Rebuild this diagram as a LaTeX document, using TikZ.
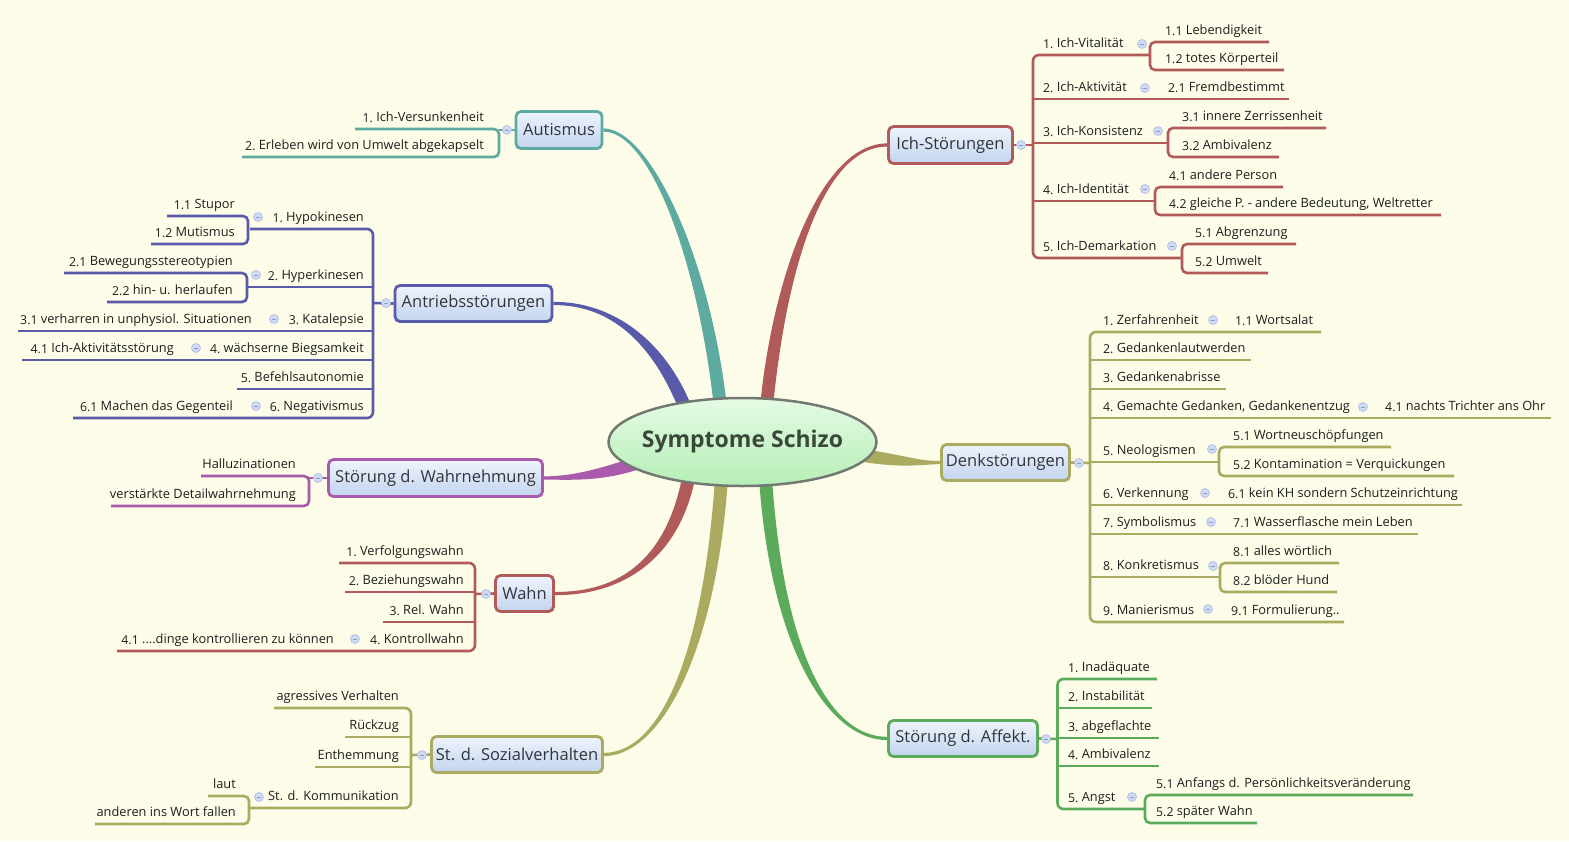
\documentclass[tikz,border=0pt]{standalone}
\usepackage{fontspec}
\setmainfont{Open Sans}
\usetikzlibrary{shapes.geometric,calc}
\definecolor{bgc}{RGB}{252,252,232}
\definecolor{cred}{RGB}{176,90,90}
\definecolor{cteal}{RGB}{92,170,160}
\definecolor{cblue}{RGB}{90,90,170}
\definecolor{cpurp}{RGB}{170,90,170}
\definecolor{colive}{RGB}{170,170,96}
\definecolor{cgreen}{RGB}{92,170,92}
\definecolor{btnf}{RGB}{208,218,244}
\definecolor{btnd}{RGB}{170,186,224}
\definecolor{btnm}{RGB}{140,155,200}
\definecolor{boxtop}{RGB}{238,244,253}
\definecolor{boxbot}{RGB}{194,212,238}
\definecolor{elltop}{RGB}{228,251,228}
\definecolor{ellbot}{RGB}{182,238,182}
\definecolor{elldraw}{RGB}{115,120,115}
\definecolor{leaftxt}{RGB}{30,30,30}
\definecolor{topictxt}{RGB}{50,52,58}
\definecolor{centtxt}{RGB}{58,72,58}
\newcommand\leaffont{\fontsize{12.8}{15}\selectfont}
\newcommand\topicfont{\fontsize{16.5}{20}\selectfont}
\newcommand\numlab[1]{{\fontsize{12.3}{14}\selectfont\raisebox{-0.8pt}{#1}}\ }
\newcommand\taper[7]{%
 \path #2 coordinate (tS) #3 coordinate (tA) #4 coordinate (tB) #5 coordinate (tE);
 \path ($(tS)!#6!90:(tA)$) coordinate (tS1) ($(tS)!#6!-90:(tA)$) coordinate (tS2)
       ($(tE)!#7!-90:(tB)$) coordinate (tE1) ($(tE)!#7!90:(tB)$) coordinate (tE2);
 \fill[#1] (tS1) .. controls ($(tA)+(tS1)-(tS)$) and ($(tB)+(tE1)-(tE)$) .. (tE1) -- (tE2) .. controls ($(tB)+(tE2)-(tE)$) and ($(tA)+(tS2)-(tS)$) .. (tS2) -- cycle;
}
\newcommand\R[4]{\node[lr] (#1) at (#2,#3-7.5) {#4};}
\newcommand\Lf[4]{\node[ll] (#1) at (#2,#3-7.5) {#4};}
\newcommand\B[3]{\node[btn] (#1) at (#2,#3) {};}
\pgfdeclarelayer{paper}
\pgfdeclarelayer{back}
\pgfsetlayers{paper,back,main}
\tikzset{
 leaf/.style={font=\leaffont, inner sep=0pt, text=leaftxt},
 lr/.style={leaf, anchor=base west},
 ll/.style={leaf, anchor=base east},
 ln/.style={line width=2.6pt, draw=#1},
 topic/.style={rounded corners=5pt, line width=2.8pt, top color=boxtop, bottom color=boxbot, font=\topicfont, text=topictxt, inner sep=0pt},
 btn/.style={circle, inner sep=0pt, minimum size=9pt, fill=btnf, draw=btnd, line width=0.6pt,
   path picture={\draw[btnm, line width=0.9pt] ([xshift=-2.3pt]path picture bounding box.center) -- ([xshift=2.3pt]path picture bounding box.center);}}
}
\begin{document}
\begin{tikzpicture}[x=1pt,y=-1pt]
\begin{pgfonlayer}{paper}
\fill[bgc] (0,0) rectangle (1569,841);
\end{pgfonlayer}
\useasboundingbox (0,0) rectangle (1569,841);

% ---------- main topics ----------
\node[ellipse, minimum width=268pt, minimum height=88pt, inner sep=0pt, draw=elldraw, line width=2.5pt, top color=elltop, bottom color=ellbot] (c) at (742.5,442) {};
\node[font=\fontsize{23}{28}\selectfont\bfseries, text=centtxt, inner sep=0pt] (ctxt) at (c.center) {Symptome Schizo};
\node[topic, draw=cred, minimum width=124pt, minimum height=37pt] (ich) at (950.5,145) {Ich-Störungen};
\node[topic, draw=cteal, minimum width=86pt, minimum height=37pt] (aut) at (559,130) {Autismus};
\node[topic, draw=cblue, minimum width=157pt, minimum height=36pt] (ant) at (473.5,303.5) {Antriebsstörungen};
\node[topic, draw=cpurp, minimum width=214pt, minimum height=37pt] (wah) at (435.5,478) {Störung d. Wahrnehmung};
\node[topic, draw=cred, minimum width=58pt, minimum height=36pt] (wahn) at (524.5,593.5) {Wahn};
\node[topic, draw=colive, minimum width=171pt, minimum height=36pt] (soz) at (517,754.5) {St. d. Sozialverhalten};
\node[topic, draw=colive, minimum width=128pt, minimum height=36pt] (denk) at (1005.5,462.5) {Denkstörungen};
\node[topic, draw=cgreen, minimum width=149pt, minimum height=36pt] (aff) at (963,738.5) {Störung d. Affekt.};

\begin{pgfonlayer}{back}
% ---------- tapered main connectors ----------
\taper{cred}{(766,412)}{(778,280)}{(820,145)}{(ich.west)}{6.5pt}{1.6pt}
\taper{cteal}{(721,412)}{(705,260)}{(650,130)}{(aut.east)}{6.5pt}{1.6pt}
\taper{cblue}{(688,415)}{(660,340)}{(610,303)}{(ant.east)}{6.5pt}{1.6pt}
\taper{cpurp}{(640,462)}{(600,476)}{(570,478)}{(wah.east)}{6.5pt}{1.6pt}
\taper{cred}{(690,470)}{(675,560)}{(620,594)}{(wahn.east)}{6.5pt}{1.6pt}
\taper{colive}{(722,470)}{(712,640)}{(665,754)}{(soz.east)}{6.5pt}{1.6pt}
\taper{cgreen}{(765,470)}{(775,640)}{(825,738)}{(aff.west)}{6.5pt}{1.6pt}
\taper{colive}{(860,455)}{(905,462)}{(920,463)}{(denk.west)}{6.5pt}{1.6pt}

% ---------- Ich-Stoerungen ----------
\draw[ln=cred] (ich.east) -- (1033,145);
\draw[ln=cred, rounded corners=6pt] (1150,55) -- (1033,55) -- (1033,258) -- (1182,258);
\draw[ln=cred] (1033,99) -- (1289,99);
\draw[ln=cred] (1033,143) -- (1168,143);
\draw[ln=cred] (1033,201) -- (1155,201);
\draw[ln=cred, rounded corners=5pt] (1269,42) -- (1150,42) -- (1150,70) -- (1284,70);
\draw[ln=cred, rounded corners=5pt] (1326,128) -- (1168,128) -- (1168,157) -- (1279,157);
\draw[ln=cred, rounded corners=5pt] (1283,187) -- (1155,187) -- (1155,215) -- (1441,215);
\draw[ln=cred, rounded corners=5pt] (1296,244) -- (1182,244) -- (1182,273) -- (1268,273);

% ---------- Denkstoerungen ----------
\draw[ln=colive] (denk.east) -- (1090,463);
\draw[ln=colive, rounded corners=6pt] (1321,332) -- (1090,332) -- (1090,622) -- (1344,622);
\draw[ln=colive] (1090,360) -- (1251,360);
\draw[ln=colive] (1090,389) -- (1226,389);
\draw[ln=colive] (1090,418) -- (1551,418);
\draw[ln=colive] (1090,462) -- (1219,462);
\draw[ln=colive] (1090,505) -- (1462,505);
\draw[ln=colive] (1090,534) -- (1418,534);
\draw[ln=colive] (1090,577) -- (1220,577);
\draw[ln=colive, rounded corners=5pt] (1391,447) -- (1219,447) -- (1219,476) -- (1454,476);
\draw[ln=colive, rounded corners=5pt] (1339,563) -- (1220,563) -- (1220,592) -- (1337,592);

% ---------- Affekt ----------
\draw[ln=cgreen] (aff.east) -- (1057.5,739);
\draw[ln=cgreen, rounded corners=6pt] (1157,679) -- (1057.5,679) -- (1057.5,809) -- (1145,809);
\draw[ln=cgreen] (1057.5,708) -- (1152,708);
\draw[ln=cgreen] (1057.5,738) -- (1159,738);
\draw[ln=cgreen] (1057.5,766) -- (1159,766);
\draw[ln=cgreen, rounded corners=5pt] (1413,795) -- (1145,795) -- (1145,823) -- (1257,823);

% ---------- Autismus ----------
\draw[ln=cteal] (aut.west) -- (499,130);
\draw[ln=cteal, rounded corners=5pt] (355,129) -- (499,129) -- (499,157) -- (242,157);

% ---------- Antriebsstoerungen ----------
\draw[ln=cblue] (ant.west) -- (373,303);
\draw[ln=cblue, rounded corners=6pt] (250,229) -- (373,229) -- (373,418) -- (73,418);
\draw[ln=cblue] (373,287) -- (247,287);
\draw[ln=cblue] (373,331) -- (18,331);
\draw[ln=cblue] (373,360) -- (22,360);
\draw[ln=cblue] (373,389) -- (237,389);
\draw[ln=cblue, rounded corners=5pt] (167,216) -- (248,216) -- (248,244) -- (151,244);
\draw[ln=cblue, rounded corners=5pt] (64,273) -- (247,273) -- (247,302) -- (107,302);

% ---------- Wahrnehmung ----------
\draw[ln=cpurp] (wah.west) -- (309,478);
\draw[ln=cpurp, rounded corners=5pt] (201,476) -- (309,476) -- (309,506) -- (111,506);

% ---------- Wahn ----------
\draw[ln=cred] (wahn.west) -- (475,594);
\draw[ln=cred, rounded corners=6pt] (339,563) -- (475,563) -- (475,651) -- (117,651);
\draw[ln=cred] (475,592) -- (345,592);
\draw[ln=cred] (475,622) -- (383,622);

% ---------- Sozialverhalten ----------
\draw[ln=colive] (soz.west) -- (411,755);
\draw[ln=colive, rounded corners=6pt] (274,708) -- (411,708) -- (411,808) -- (249,808);
\draw[ln=colive] (411,737) -- (345,737);
\draw[ln=colive] (411,767) -- (315,767);
\draw[ln=colive, rounded corners=5pt] (208,796) -- (249,796) -- (249,824) -- (95,824);
\end{pgfonlayer}

% ---------- texts right ----------
\R{a1}{1043}{55}{\numlab{1.}Ich-Vitalität}
\R{a11}{1165}{42}{\numlab{1.1}Lebendigkeit}
\R{a12}{1165}{70}{\numlab{1.2}totes Körperteil}
\R{a2}{1043}{99}{\numlab{2.}Ich-Aktivität}
\R{a21}{1168}{99}{\numlab{2.1}Fremdbestimmt}
\R{a3}{1043}{143}{\numlab{3.}Ich-Konsistenz}
\R{a31}{1182}{128}{\numlab{3.1}innere Zerrissenheit}
\R{a32}{1182}{157}{\numlab{3.2}Ambivalenz}
\R{a4}{1043}{201}{\numlab{4.}Ich-Identität}
\R{a41}{1169}{187}{\numlab{4.1}andere Person}
\R{a42}{1169}{215}{\numlab{4.2}gleiche P. - andere Bedeutung, Weltretter}
\R{a5}{1043}{258}{\numlab{5.}Ich-Demarkation}
\R{a51}{1195}{244}{\numlab{5.1}Abgrenzung}
\R{a52}{1195}{273}{\numlab{5.2}Umwelt}

\R{d1}{1103}{332}{\numlab{1.}Zerfahrenheit}
\R{d11}{1235}{332}{\numlab{1.1}Wortsalat}
\R{d2}{1103}{360}{\numlab{2.}Gedankenlautwerden}
\R{d3}{1103}{389}{\numlab{3.}Gedankenabrisse}
\R{d4}{1103}{418}{\numlab{4.}Gemachte Gedanken, Gedankenentzug}
\R{d41}{1385}{418}{\numlab{4.1}nachts Trichter ans Ohr}
\R{d5}{1103}{462}{\numlab{5.}Neologismen}
\R{d51}{1233}{447}{\numlab{5.1}Wortneuschöpfungen}
\R{d52}{1233}{476}{\numlab{5.2}Kontamination = Verquickungen}
\R{d6}{1103}{505}{\numlab{6.}Verkennung}
\R{d61}{1228}{505}{\numlab{6.1}kein KH sondern Schutzeinrichtung}
\R{d7}{1103}{534}{\numlab{7.}Symbolismus}
\R{d71}{1233}{534}{\numlab{7.1}Wasserflasche mein Leben}
\R{d8}{1103}{577}{\numlab{8.}Konkretismus}
\R{d81}{1233}{563}{\numlab{8.1}alles wörtlich}
\R{d82}{1233}{592}{\numlab{8.2}blöder Hund}
\R{d9}{1103}{622}{\numlab{9.}Manierismus}
\R{d91}{1231}{622}{\numlab{9.1}Formulierung..}

\R{f1}{1068}{679}{\numlab{1.}Inadäquate}
\R{f2}{1068}{708}{\numlab{2.}Instabilität}
\R{f3}{1068}{738}{\numlab{3.}abgeflachte}
\R{f4}{1068}{766}{\numlab{4.}Ambivalenz}
\R{f5}{1068}{809}{\numlab{5.}Angst}
\R{f51}{1156}{795}{\numlab{5.1}Anfangs d. Persönlichkeitsveränderung}
\R{f52}{1156}{823}{\numlab{5.2}später Wahn}

% ---------- texts left ----------
\Lf{u1}{484}{129}{\numlab{1.}Ich-Versunkenheit}
\Lf{u2}{484}{157}{\numlab{2.}Erleben wird von Umwelt abgekapselt}

\Lf{b1}{364}{229}{\numlab{1.}Hypokinesen}
\Lf{b11}{235}{216}{\numlab{1.1}Stupor}
\Lf{b12}{235}{244}{\numlab{1.2}Mutismus}
\Lf{b2}{364}{287}{\numlab{2.}Hyperkinesen}
\Lf{b21}{233}{273}{\numlab{2.1}Bewegungsstereotypien}
\Lf{b22}{233}{302}{\numlab{2.2}hin- u. herlaufen}
\Lf{b3}{364}{331}{\numlab{3.}Katalepsie}
\Lf{b31}{252}{331}{\numlab{3.1}verharren in unphysiol. Situationen}
\Lf{b4}{364}{360}{\numlab{4.}wächserne Biegsamkeit}
\Lf{b41}{174}{360}{\numlab{4.1}Ich-Aktivitätsstörung}
\Lf{b5}{364}{389}{\numlab{5.}Befehlsautonomie}
\Lf{b6}{364}{418}{\numlab{6.}Negativismus}
\Lf{b61}{233}{418}{\numlab{6.1}Machen das Gegenteil}

\Lf{w1}{296}{476}{Halluzinationen}
\Lf{w2}{296}{506}{verstärkte Detailwahrnehmung}

\Lf{h1}{464}{563}{\numlab{1.}Verfolgungswahn}
\Lf{h2}{464}{592}{\numlab{2.}Beziehungswahn}
\Lf{h3}{464}{622}{\numlab{3.}Rel. Wahn}
\Lf{h4}{464}{651}{\numlab{4.}Kontrollwahn}
\Lf{h41}{334}{651}{\numlab{4.1}....dinge kontrollieren zu können}

\Lf{s1}{399}{708}{agressives Verhalten}
\Lf{s2}{399}{737}{Rückzug}
\Lf{s3}{399}{767}{Enthemmung}
\Lf{s4}{399}{808}{St. d. Kommunikation}
\Lf{s41}{236}{796}{laut}
\Lf{s42}{236}{824}{anderen ins Wort fallen}

% ---------- collapse buttons ----------
\B{k0}{1021}{145}
\B{ka1}{1142}{44}
\B{ka2}{1145}{88}
\B{ka3}{1158}{131}
\B{ka4}{1145}{189}
\B{ka5}{1172}{246}
\B{kd0}{1079}{463}
\B{kd1}{1213}{320}
\B{kd4}{1363}{407}
\B{kd5}{1212}{449}
\B{kd6}{1205}{493}
\B{kd7}{1211}{522}
\B{kd8}{1213}{566}
\B{kd9}{1208}{609}
\B{kf0}{1046}{739}
\B{kf5}{1132}{797}
\B{ku0}{507}{130}
\B{kb0}{386}{303}
\B{kb1}{258}{217}
\B{kb2}{256}{275}
\B{kb3}{274}{319}
\B{kb4}{196}{348}
\B{kb6}{256}{406}
\B{kw0}{318}{478}
\B{kh0}{486}{594}
\B{kh4}{355}{639}
\B{ks0}{422}{755}
\B{ks4}{259}{797}
\end{tikzpicture}
\end{document}
